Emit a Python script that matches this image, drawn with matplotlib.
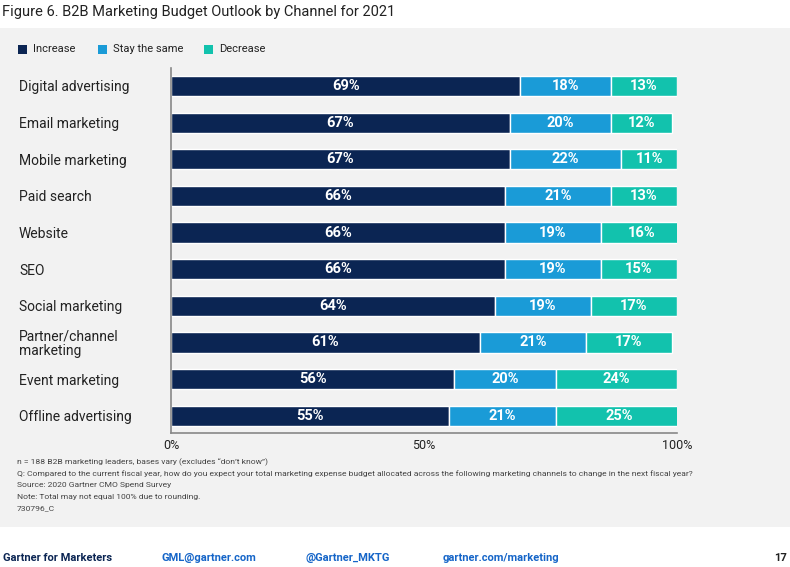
import matplotlib.pyplot as plt
from matplotlib.patches import Rectangle

plt.rcParams['font.family'] = ['Roboto', 'DejaVu Sans']

channels = ["Digital advertising", "Email marketing", "Mobile marketing", "Paid search",
            "Website", "SEO", "Social marketing", "Partner/channel\nmarketing",
            "Event marketing", "Offline advertising"]
increase = [69, 67, 67, 66, 66, 66, 64, 61, 56, 55]
same = [18, 20, 22, 21, 19, 19, 19, 21, 20, 21]
decrease = [13, 12, 11, 13, 16, 15, 17, 17, 24, 25]

series_names = ["Increase", "Stay the same", "Decrease"]
colors = ["#0b2553", "#1a9bd7", "#12c2ad"]

fig = plt.figure(figsize=(7.9, 5.67), dpi=100, facecolor="white")
# gray panel behind chart
fig.patches.append(Rectangle((0, 1 - 527 / 567), 1, (527 - 28) / 567,
                             transform=fig.transFigure, facecolor="#f2f2f2",
                             edgecolor="none", zorder=-10))

ax = fig.add_axes([171 / 790, 1 - 433 / 567, (677 - 171) / 790, (433 - 68) / 567])
ax.set_facecolor("none")

ypos = list(range(len(channels)))
left = [0] * len(channels)
for vals, name, c in zip([increase, same, decrease], series_names, colors):
    bars = ax.barh(ypos, vals, left=left, height=0.55, color=c, edgecolor="white",
                   linewidth=1, label=name)
    for b, v in zip(bars, vals):
        ax.text(b.get_x() + b.get_width() / 2, b.get_y() + b.get_height() / 2,
                f"{v}%", ha="center", va="center", color="white",
                fontsize=10.5, fontweight="bold")
    left = [l + v for l, v in zip(left, vals)]

ax.set_xlim(0, 100)
ax.set_ylim(9.47, -0.49)
ax.set_xticks([0, 50, 100])
ax.set_xticklabels(["0%", "50%", "100%"], fontsize=9, color="#222222")
ax.set_yticks(ypos)
ax.set_yticklabels(channels, fontsize=10, color="#222222", ha="left", linespacing=1.0)
ax.tick_params(axis="y", length=0, pad=(171 - 19) * 0.72)
ax.tick_params(axis="x", length=0, pad=4)
for s in ["top", "right"]:
    ax.spines[s].set_visible(False)
for s in ["left", "bottom"]:
    ax.spines[s].set_color("#888888")
    ax.spines[s].set_linewidth(1.2)

# title
fig.text(2 / 790, 1 - 12 / 567, "Figure 6. B2B Marketing Budget Outlook by Channel for 2021",
         fontsize=10.5, color="#222222", va="center")

# legend
leg_x = [18, 98, 204]
for x, name, c in zip(leg_x, series_names, colors):
    fig.patches.append(Rectangle((x / 790, 1 - 54 / 567), 9 / 790, 9 / 567,
                                 transform=fig.transFigure, facecolor=c, edgecolor="none"))
    fig.text((x + 15) / 790, 1 - 49.5 / 567, name, fontsize=8, color="#222222", va="center")

notes = [
    "n = 188 B2B marketing leaders, bases vary (excludes \u201cdon\u2019t know\u201d)",
    "Q: Compared to the current fiscal year, how do you expect your total marketing expense budget allocated across the following marketing channels to change in the next fiscal year?",
    "Source: 2020 Gartner CMO Spend Survey",
    "Note: Total may not equal 100% due to rounding.",
    "730796_C",
]
for i, t in enumerate(notes):
    fig.text(17 / 790, 1 - (462 + i * 11.5) / 567, t, fontsize=6.1, color="#444444", va="center")

footer = [(3, "Gartner for Marketers", "#0b2553"), (162, "GML@gartner.com", "#1565c8"),
          (306, "@Gartner_MKTG", "#1565c8"), (443, "gartner.com/marketing", "#1565c8")]
for x, t, c in footer:
    fig.text(x / 790, 1 - 558 / 567, t, fontsize=8, color=c, fontweight="bold", va="center")
fig.text(787 / 790, 1 - 558 / 567, "17", fontsize=8, color="#222222", fontweight="bold",
         va="center", ha="right")

fig.savefig("out.png", dpi=100, facecolor="white")
